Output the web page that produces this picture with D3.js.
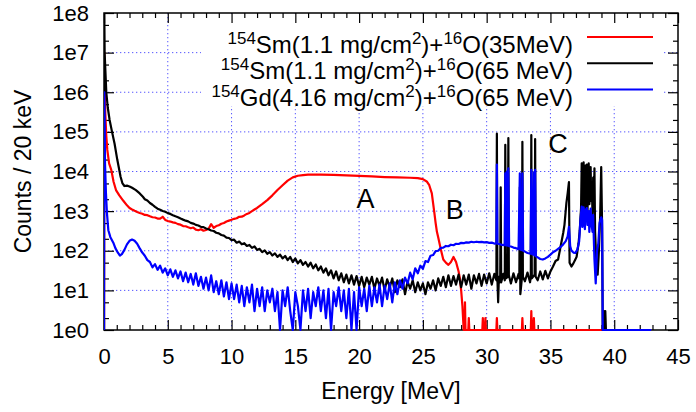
<!DOCTYPE html>
<html>
<head>
<meta charset="utf-8">
<script src="https://cdn.jsdelivr.net/npm/d3@7"></script>
<style>
  body { margin: 0; background: #fff; }
  svg { font-family: "Liberation Sans", Arial, sans-serif; }
</style>
</head>
<body>
<div id="chart"></div>
<script>
// tick values and labels
const xTicks = [0, 5, 10, 15, 20, 25, 30, 35, 40, 45];
const yTicks = [1, 1e1, 1e2, 1e3, 1e4, 1e5, 1e6, 1e7, 1e8];
const yTickLabels = ["1e0", "1e1", "1e2", "1e3", "1e4", "1e5", "1e6", "1e7", "1e8"];

// legend entries (gnuplot enhanced-text style superscripts)
const seriesLabels = [
    "^{154}Sm(1.1 mg/cm^{2})+^{16}O(35MeV)",
    "^{154}Sm(1.1 mg/cm^{2})+^{16}O(65 MeV)",
    "^{154}Gd(4.16 mg/cm^{2})+^{16}O(65 MeV)"
];
const seriesColors = ["#ff0000", "#000000", "#0000ff"];

// region labels
const regionNames = ["A", "B", "C"];
const regionEnergy = [20.5, 27.5, 35.6];
const regionCounts = [1200, 630, 3e4];

// spectra: [energy MeV, counts / 20 keV]
const sm35 = [
[0,1],[0.02,1e7],[0.05,2e6],[0.1,3e5],[0.18,8e4],[0.26,3.5e4],[0.4,1.6e4],[0.57,1.1e4],[0.75,5500],[0.94,3400],
[1.2,2500],[1.5,1850],[1.8,1400],[2.0,1200],[2.2,1100],[2.4,1020],[2.6,950],[2.8,900],[3.0,860],[3.2,800],
[3.4,790],[3.6,740],[3.8,700],[4.0,690],[4.2,650],[4.4,645],[4.6,720],[4.8,600],[5.0,565],[5.2,545],
[5.4,520],[5.6,505],[5.8,470],[6.0,455],[6.2,420],[6.4,415],[6.6,390],[6.8,370],[7.0,385],[7.2,340],
[7.4,330],[7.6,350],[7.8,320],[8.0,335],[8.2,360],[8.4,470],[8.6,380],[8.8,420],[9.0,440],[9.2,480],
[9.4,500],[9.6,545],[9.8,575],[10.0,605],[10.2,640],[10.4,660],[10.6,720],[10.8,725],[11.0,780],[11.2,850],
[11.4,900],[11.6,1000],[11.8,1100],[12.0,1200],[12.4,1500],[12.8,1900],[13.2,2500],[13.6,3400],[14.0,4500],[14.4,5900],
[14.8,7100],[15.2,7800],[15.6,8100],[16.0,8300],[17.0,8300],[18.0,8200],[19.0,8000],[20.0,7800],[21.0,7500],[22.0,7250],
[23.0,7100],[24.0,6950],[24.6,6800],[25.0,6400],[25.3,5600],[25.5,4500],[25.7,2800],[25.8,1600],[25.9,900],[26.0,500],
[26.1,300],[26.2,220],[26.4,110],[26.6,60],[26.8,50],[27.0,44],[27.2,52],[27.4,70],[27.6,52],[27.8,30],
[27.9,20],[28.0,10],[28.1,4],[28.2,1],[28.26,1],[28.3,5],[28.34,1],[28.56,1],[28.6,2],[28.64,1],
[29.66,1],[29.7,2],[29.74,1],[29.86,1],[29.9,2],[29.94,1],[30.76,1],[30.8,2],[30.84,1],[32.76,1],
[32.8,2],[32.84,1],[33.46,1],[33.5,3],[33.54,1],[33.66,1],[33.7,2],[33.74,1],[39.1,1]
];

const sm65 = [
[0,1],[0.01,3e8],[0.05,1e7],[0.1,4e6],[0.18,1e6],[0.3,4e5],[0.44,2e5],[0.63,1e5],[0.83,5e4],[1.04,2e4],
[1.3,7400],[1.45,5000],[1.6,4300],[1.8,4400],[2.0,4200],[2.2,3900],[2.5,3400],[2.8,2800],[3.05,2300],[3.2,2000],
[3.4,1850],[3.6,1600],[3.8,1450],[4.0,1280],[4.2,1150],[4.4,1080],[4.6,1010],[4.8,960],[5.0,890],[5.2,850],
[5.4,790],[5.6,740],[5.8,700],[6.0,650],[6.2,610],[6.4,575],[6.6,550],[6.8,505],[7.0,485],[7.2,450],
[7.4,435],[7.6,400],[7.8,395],[8.0,365],[8.2,350],[8.4,325],[8.6,315],[8.8,285],[9.0,275],[9.2,250],
[9.4,240],[9.6,215],[9.8,210],[10.0,185],[10.2,190],[10.4,160],[10.6,170],[10.8,145],[11.0,155],[11.2,132],
[11.4,140],[11.6,118],[11.8,128],[12.0,105],[12.2,112],[12.4,92],[12.6,102],[12.8,84],[13.0,92],[13.2,76],
[13.4,86],[13.6,70],[13.8,80],[14.0,64],[14.2,74],[14.4,58],[14.6,70],[14.8,52],[15.0,64],[15.2,48],
[15.4,58],[15.6,44],[15.8,52],[16.0,40],[16.2,50],[16.4,36],[16.6,45],[16.8,32],[17.0,40],[17.2,28],
[17.4,36],[17.6,24],[17.8,32],[18.0,20],[18.2,30],[18.4,18],[18.6,27],[18.8,16],[19.0,25],[19.2,15],
[19.4,24],[19.6,14],[19.8,23],[20.0,13],[20.2,22],[20.4,12],[20.6,21],[20.8,14],[21.0,22],[21.2,11],
[21.4,20],[21.6,13],[21.8,21],[22.0,10],[22.2,19],[22.4,12],[22.6,20],[22.8,9],[23.0,18],[23.2,12],
[23.4,19],[23.6,8],[23.8,17],[24.0,11],[24.2,18],[24.4,9],[24.6,16],[24.8,10],[25.0,15],[25.2,8],
[25.4,16],[25.6,11],[25.8,18],[26.0,10],[26.2,20],[26.4,13],[26.6,22],[26.8,12],[27.0,24],[27.2,13],
[27.4,23],[27.6,14],[27.8,25],[28.0,12],[28.2,24],[28.4,14],[28.6,25],[28.8,11],[29.0,24],[29.2,15],
[29.4,26],[29.6,13],[29.8,25],[30.0,15],[30.2,27],[30.4,14],[30.6,26],[30.76,18],[30.8,90000],[30.84,20],
[30.9,5],[30.96,22],[31.06,16],[31.1,4000],[31.14,16],[31.3,26],[31.42,18],[31.46,47000],[31.5,20],[31.66,22],
[31.7,70000],[31.74,24],[31.9,15],[32.1,27],[32.3,16],[32.5,26],[32.56,20],[32.6,4000],[32.64,8],[32.76,20],
[32.8,56000],[32.84,22],[33.0,17],[33.2,28],[33.4,16],[33.46,22],[33.5,83000],[33.54,20],[33.76,25],[33.8,66000],
[33.84,22],[34.0,18],[34.2,30],[34.4,19],[34.6,31],[34.8,20],[35.0,30],[35.2,40],[35.4,55],[35.6,60],
[35.8,130],[36.0,280],[36.1,450],[36.25,1600],[36.35,2800],[36.45,5400],[36.5,50],[36.65,40],[36.8,48],[36.95,60],
[37.05,70],[37.2,150],[37.3,330],[37.4,1200],[37.45,16000],[37.5,900],[37.55,3000],[37.6,17000],[37.65,1500],[37.7,600],
[37.75,14000],[37.8,1200],[37.85,15000],[37.9,800],[37.95,5000],[38.0,16000],[38.05,1500],[38.1,2500],[38.15,13000],[38.2,1800],
[38.25,4000],[38.3,700],[38.35,7000],[38.4,1000],[38.45,12000],[38.5,300],[38.6,50],[38.7,25],[38.8,100],[38.9,800],
[38.98,13000],[39.05,400],[39.1,1],[39.2,3],[39.25,1],[39.3,3],[39.35,1],[39.5,1]
];

const gd65 = [
[0,1],[0.02,1e6],[0.05,2e5],[0.08,1.6e4],[0.15,3000],[0.23,900],[0.34,330],[0.5,220],[0.73,160],[0.9,115],
[1.1,88],[1.25,76],[1.4,82],[1.6,105],[1.8,145],[2.0,178],[2.2,192],[2.4,178],[2.6,150],[2.8,115],
[3.0,90],[3.2,75],[3.4,58],[3.6,52],[3.8,38],[4.0,46],[4.2,33],[4.4,42],[4.6,28],[4.8,36],
[5.0,24],[5.2,34],[5.4,22],[5.6,32],[5.8,20],[6.0,30],[6.2,17],[6.4,28],[6.6,16],[6.8,26],
[7.0,14],[7.2,27],[7.4,13],[7.6,22],[7.8,11],[8.0,21],[8.2,10],[8.4,24],[8.6,9],[8.8,17],
[9.0,8],[9.2,18],[9.4,7],[9.6,16],[9.8,6],[10.0,15],[10.2,6],[10.4,14],[10.6,5],[10.8,13],
[11.0,4],[11.2,12],[11.4,5],[11.6,14],[11.8,3],[12.0,11],[12.2,4],[12.4,12],[12.6,3],[12.8,10],
[13.0,5],[13.2,11],[13.4,3],[13.6,9],[13.8,1],[14.0,10],[14.2,4],[14.4,12],[14.6,3],[14.8,1],
[15.0,9],[15.2,4],[15.4,1],[15.6,10],[15.8,3],[16.0,11],[16.2,2],[16.4,9],[16.6,4],[16.8,12],
[17.0,3],[17.2,10],[17.4,2],[17.6,11],[17.8,1],[18.0,9],[18.2,4],[18.4,12],[18.6,3],[18.8,10],
[19.0,2],[19.2,11],[19.4,1],[19.6,9],[19.8,1],[20.0,12],[20.2,4],[20.4,11],[20.6,3],[20.8,13],
[21.0,4],[21.2,12],[21.4,5],[21.6,14],[21.8,4],[22.0,13],[22.2,6],[22.4,15],[22.6,5],[22.8,16],
[23.0,8],[23.2,18],[23.4,11],[23.6,21],[23.8,15],[24.0,28],[24.2,19],[24.4,36],[24.6,27],[24.8,42],
[25.0,35],[25.2,55],[25.4,52],[25.6,75],[25.8,78],[26.0,98],[26.2,100],[26.4,118],[26.6,120],[26.8,132],
[27.0,130],[27.2,142],[27.4,138],[27.6,150],[27.8,148],[28.0,158],[28.2,155],[28.4,163],[28.6,160],[28.8,168],
[29.0,164],[29.2,169],[29.4,165],[29.6,168],[29.8,163],[30.0,165],[30.2,158],[30.4,160],[30.6,152],[30.76,154],
[30.8,15000],[30.84,150],[31.0,148],[31.2,140],[31.42,138],[31.46,9000],[31.52,136],[31.58,10000],[31.64,134],[31.7,12000],
[31.76,130],[31.9,128],[32.1,120],[32.3,116],[32.5,110],[32.6,9000],[32.66,106],[32.74,104],[32.8,9000],[32.86,100],
[33.0,95],[33.2,88],[33.44,84],[33.5,11000],[33.56,82],[33.64,80],[33.7,9500],[33.76,76],[33.8,11000],[33.86,72],
[34.0,68],[34.2,62],[34.4,60],[34.6,64],[34.8,70],[35.0,80],[35.2,92],[35.4,100],[35.6,112],[35.8,125],
[36.0,145],[36.2,175],[36.35,230],[36.45,400],[36.55,130],[36.65,100],[36.8,90],[36.95,88],[37.1,105],[37.25,170],
[37.35,600],[37.45,1300],[37.5,400],[37.55,1000],[37.6,1250],[37.65,500],[37.7,350],[37.75,1100],[37.8,800],[37.85,1200],
[37.9,450],[37.95,900],[38.0,1000],[38.05,300],[38.1,700],[38.15,1150],[38.2,500],[38.3,300],[38.35,800],[38.4,200],
[38.45,60],[38.55,15],[38.65,100],[38.75,150],[38.85,500],[38.98,700],[39.05,600],[39.1,1],[42.9,1]
];

const spectra = [sm35, sm65, gd65];

const W = 696, H = 412;
const margin = { top: 13, right: 18, bottom: 82, left: 104 };
const width = W - margin.left - margin.right;
const height = H - margin.top - margin.bottom;

const svg = d3.select("#chart").append("svg")
    .attr("width", W)
    .attr("height", H);

const g = svg.append("g")
    .attr("transform", `translate(${margin.left},${margin.top})`);

const x = d3.scaleLinear().domain([0, 45]).range([0, width]);
const y = d3.scaleLog().domain([1, 1e8]).range([height, 0]);

// dotted grid
const gridColor = "#3a3aff";
g.append("g").selectAll("line")
    .data(xTicks.filter(d => d > 0 && d < 45))
    .join("line")
    .attr("x1", d => x(d)).attr("x2", d => x(d))
    .attr("y1", 0).attr("y2", height);
g.append("g").selectAll("line")
    .data(yTicks.filter(d => d > 1 && d < 1e8))
    .join("line")
    .attr("x1", 0).attr("x2", width)
    .attr("y1", d => y(d)).attr("y2", d => y(d));
g.selectAll("line")
    .attr("stroke", gridColor)
    .attr("stroke-width", 1)
    .attr("stroke-dasharray", "1.3,2.7")
    .attr("opacity", 0.85);

// opaque key box hides the grid behind the legend
g.append("rect")
    .attr("x", 97).attr("y", 1)
    .attr("width", 463).attr("height", 92)
    .attr("fill", "#fff");

// border
g.append("rect")
    .attr("width", width).attr("height", height)
    .attr("fill", "none")
    .attr("stroke", "#000")
    .attr("stroke-width", 1.5);

// minor tick positions
const xMinor = d3.range(0, 46).filter(d => d % 5 !== 0);
const yMinor = [];
yTicks.slice(0, -1).forEach(d => { yMinor.push(d * 2, d * 5); });

function styleAxis(sel) {
    sel.attr("font-family", null).attr("font-size", 22);
    sel.select(".domain").remove();
    sel.selectAll("line").attr("stroke", "#000").attr("stroke-width", 1.2);
    sel.selectAll("text").attr("fill", "#000");
}

g.append("g")
    .attr("transform", `translate(0,${height})`)
    .call(d3.axisBottom(x).tickValues(xTicks).tickSizeInner(-10).tickSizeOuter(0).tickPadding(18).tickFormat(d3.format("d")))
    .call(styleAxis);
g.append("g")
    .attr("transform", `translate(0,${height})`)
    .call(d3.axisBottom(x).tickValues(xMinor).tickSizeInner(-5).tickSizeOuter(0).tickFormat(""))
    .call(styleAxis);
g.append("g")
    .call(d3.axisTop(x).tickValues(xTicks).tickSizeInner(-10).tickSizeOuter(0).tickFormat(""))
    .call(styleAxis);
g.append("g")
    .call(d3.axisTop(x).tickValues(xMinor).tickSizeInner(-5).tickSizeOuter(0).tickFormat(""))
    .call(styleAxis);
g.append("g")
    .call(d3.axisLeft(y).tickValues(yTicks).tickSizeInner(-10).tickSizeOuter(0).tickPadding(15).tickFormat((d, i) => yTickLabels[i]))
    .call(styleAxis);
g.append("g")
    .call(d3.axisLeft(y).tickValues(yMinor).tickSizeInner(-5).tickSizeOuter(0).tickFormat(""))
    .call(styleAxis);
g.append("g")
    .attr("transform", `translate(${width},0)`)
    .call(d3.axisRight(y).tickValues(yTicks).tickSizeInner(-10).tickSizeOuter(0).tickFormat(""))
    .call(styleAxis);
g.append("g")
    .attr("transform", `translate(${width},0)`)
    .call(d3.axisRight(y).tickValues(yMinor).tickSizeInner(-5).tickSizeOuter(0).tickFormat(""))
    .call(styleAxis);

// spectra
svg.append("defs").append("clipPath").attr("id", "plot-clip")
    .append("rect")
    .attr("x", 0).attr("y", 0)
    .attr("width", width).attr("height", height + 2);

const line = d3.line()
    .x(d => x(d[0]))
    .y(d => y(Math.max(1, d[1])));

const plot = g.append("g").attr("clip-path", "url(#plot-clip)");
spectra.forEach((s, i) => {
    plot.append("path")
        .datum(s)
        .attr("fill", "none")
        .attr("stroke", seriesColors[i])
        .attr("stroke-width", 2.2)
        .attr("stroke-linejoin", "round")
        .attr("d", line);
});

// legend
function richText(sel, s) {
    const parts = s.split(/(\^\{[^}]*\})/).filter(p => p);
    let raised = false;
    parts.forEach(p => {
        const sup = p.startsWith("^{");
        const t = sel.append("tspan").text(sup ? p.slice(2, -1) : p);
        if (sup) t.attr("font-size", 17);
        if (sup !== raised) {
            t.attr("dy", sup ? -9 : 9);
            raised = sup;
        }
    });
}

const legend = svg.append("g");
seriesLabels.forEach((label, i) => {
    const rowY = 37 + i * 26.3;
    const txt = legend.append("text")
        .attr("x", 573)
        .attr("y", rowY + 16)
        .attr("text-anchor", "end")
        .attr("font-size", 24)
        .attr("fill", "#000");
    richText(txt, label);
    legend.append("line")
        .attr("x1", 587).attr("x2", 653)
        .attr("y1", rowY).attr("y2", rowY)
        .attr("stroke", seriesColors[i])
        .attr("stroke-width", 2);
});

// region labels
g.selectAll(".region")
    .data(regionNames)
    .join("text")
    .attr("class", "region")
    .attr("x", (d, i) => x(regionEnergy[i]))
    .attr("y", (d, i) => y(regionCounts[i]))
    .attr("text-anchor", "middle")
    .attr("font-size", 27)
    .attr("fill", "#000")
    .text(d => d);

// axis titles
svg.append("text")
    .attr("x", margin.left + width / 2)
    .attr("y", 399)
    .attr("text-anchor", "middle")
    .attr("font-size", 23)
    .text("Energy [MeV]");

svg.append("text")
    .attr("transform", `translate(31,${margin.top + height / 2}) rotate(-90)`)
    .attr("text-anchor", "middle")
    .attr("font-size", 23)
    .text("Counts / 20 keV");
</script>
</body>
</html>
